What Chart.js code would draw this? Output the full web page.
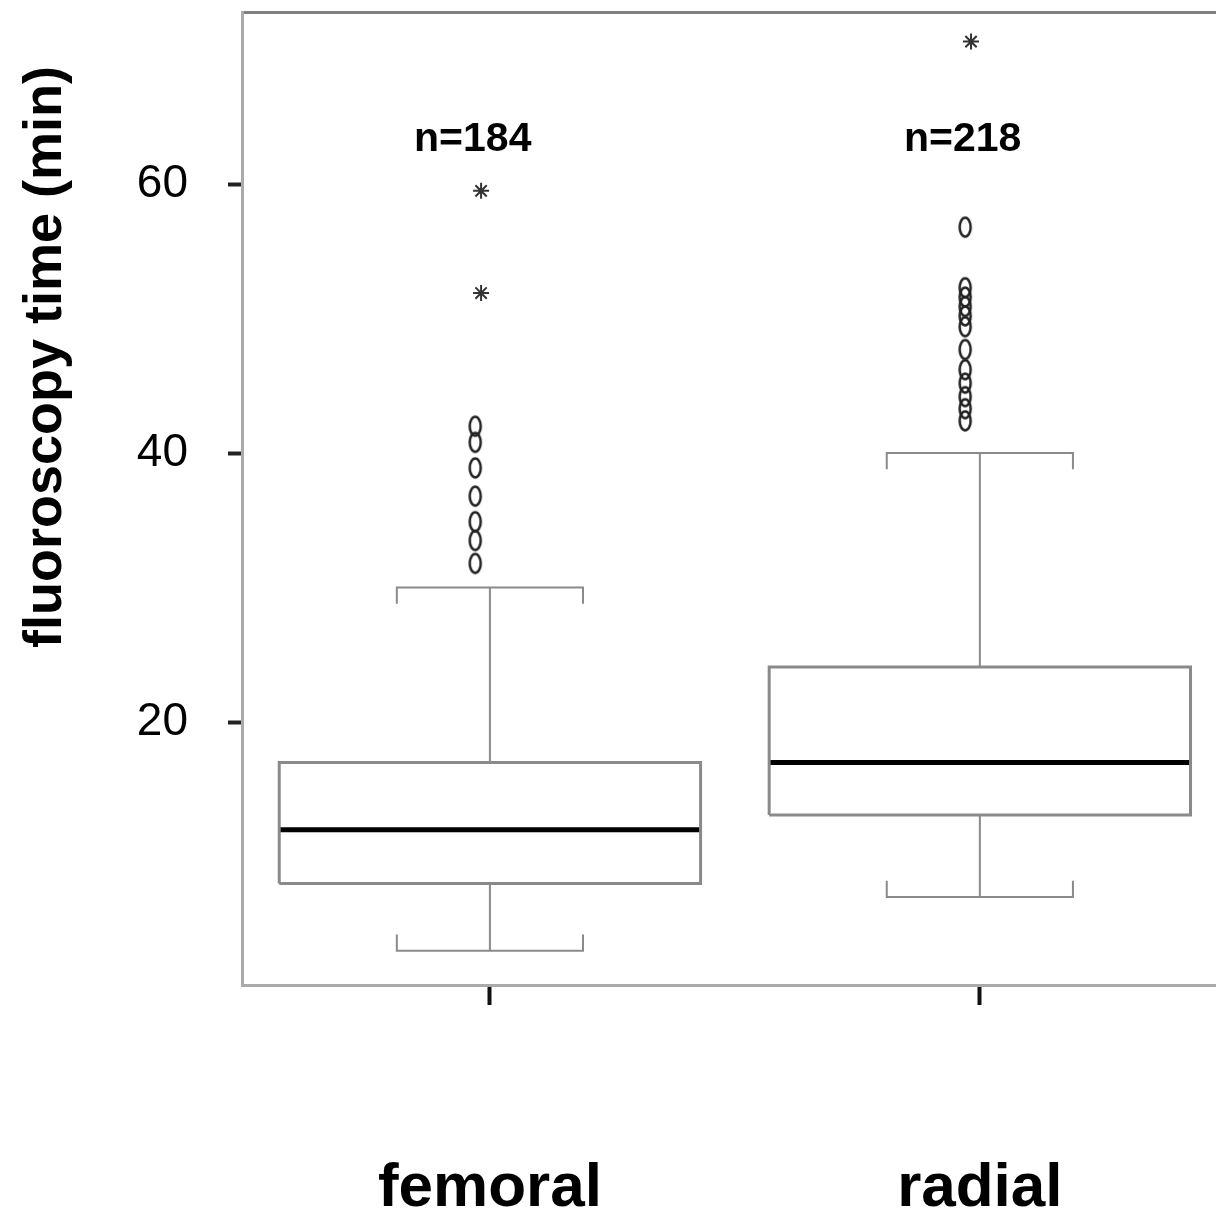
<!DOCTYPE html>
<html>
<head>
<meta charset="utf-8">
<script src="https://cdn.jsdelivr.net/npm/chart.js@4"></script>
<style>
  html, body { margin: 0; padding: 0; background: #fff; overflow: hidden; }
  canvas { display: block; }
</style>
</head>
<body>
<canvas id="grafica" width="1216" height="1216"></canvas>
<script>
// datos
const categories = ['femoral', 'radial'];
const sampleSizes = [184, 218];
const whiskerLow = [3.0, 7.0];
const q1 = [8.0, 13.1];
const medians = [12.0, 17.0];
const q3 = [17.0, 24.1];
const whiskerHigh = [30.0, 40.0];
const outliersFemoral = [31.8, 33.5, 34.9, 36.8, 38.9, 40.8, 42.0];
const outliersRadial = [42.4, 43.3, 44.2, 45.2, 46.2, 47.7, 49.4, 50.2, 50.9, 51.6, 52.3, 56.8];
const extremesFemoral = [51.9, 59.5];
const extremesRadial = [70.6];
const yTicks = [20, 40, 60];

const fontFamily = '"Liberation Sans", Arial, Helvetica, sans-serif';
const boxHalf = 0.43;
const capHalf = 0.19;
const capTick = 1.2;
const outlierShift = -0.03;

// marcador eliptico como el "o" de la figura original
const ellipse = document.createElement('canvas');
ellipse.width = 16;
ellipse.height = 24;
const ectx = ellipse.getContext('2d');
ectx.strokeStyle = '#222';
ectx.lineWidth = 2.5;
ectx.beginPath();
ectx.ellipse(8, 12, 5.5, 9.5, 0, 0, Math.PI * 2);
ectx.stroke();

const lineBase = {
    showLine: true,
    fill: false,
    pointRadius: 0,
    pointHoverRadius: 0,
    borderJoinStyle: 'miter',
    borderCapStyle: 'butt'
};

const datasets = [];
categories.forEach((cat, i) => {
    const x = i + 1;
    // caja
    datasets.push(Object.assign({}, lineBase, {
        data: [
            { x: x - boxHalf, y: q1[i] }, { x: x + boxHalf, y: q1[i] },
            { x: x + boxHalf, y: q3[i] }, { x: x - boxHalf, y: q3[i] },
            { x: x - boxHalf, y: q1[i] }
        ],
        borderColor: '#8a8a8a',
        borderWidth: 3
    }));
    // bigotes
    datasets.push(Object.assign({}, lineBase, {
        data: [{ x: x, y: q3[i] }, { x: x, y: whiskerHigh[i] }],
        borderColor: '#8a8a8a',
        borderWidth: 2
    }));
    datasets.push(Object.assign({}, lineBase, {
        data: [{ x: x, y: q1[i] }, { x: x, y: whiskerLow[i] }],
        borderColor: '#8a8a8a',
        borderWidth: 2
    }));
    datasets.push(Object.assign({}, lineBase, {
        data: [
            { x: x - capHalf, y: whiskerHigh[i] - capTick }, { x: x - capHalf, y: whiskerHigh[i] },
            { x: x + capHalf, y: whiskerHigh[i] }, { x: x + capHalf, y: whiskerHigh[i] - capTick }
        ],
        borderColor: '#8a8a8a',
        borderWidth: 2
    }));
    datasets.push(Object.assign({}, lineBase, {
        data: [
            { x: x - capHalf, y: whiskerLow[i] + capTick }, { x: x - capHalf, y: whiskerLow[i] },
            { x: x + capHalf, y: whiskerLow[i] }, { x: x + capHalf, y: whiskerLow[i] + capTick }
        ],
        borderColor: '#8a8a8a',
        borderWidth: 2
    }));
    // mediana
    datasets.push(Object.assign({}, lineBase, {
        data: [{ x: x - boxHalf, y: medians[i] }, { x: x + boxHalf, y: medians[i] }],
        borderColor: '#000',
        borderWidth: 5
    }));
});

// valores atipicos
[outliersFemoral, outliersRadial].forEach((arr, i) => {
    datasets.push({
        data: arr.map(v => ({ x: i + 1 + outlierShift, y: v })),
        pointStyle: ellipse,
        pointRadius: 9,
        pointHoverRadius: 9,
        showLine: false
    });
});
[extremesFemoral, extremesRadial].forEach((arr, i) => {
    datasets.push({
        data: arr.map(v => ({ x: i + 1 + outlierShift * 0.6, y: v })),
        pointStyle: 'star',
        pointRadius: 8,
        pointHoverRadius: 8,
        borderColor: '#333',
        backgroundColor: '#333',
        borderWidth: 2,
        showLine: false
    });
});

// etiquetas n= y titulo del eje y
const textos = {
    id: 'textos',
    afterDraw(chart) {
        const ctx = chart.ctx;
        const xs = chart.scales.x;
        const ys = chart.scales.y;
        ctx.save();
        ctx.fillStyle = '#000';
        ctx.font = 'bold 41px ' + fontFamily;
        ctx.textAlign = 'center';
        ctx.textBaseline = 'middle';
        sampleSizes.forEach((n, i) => {
            ctx.fillText('n=' + n, xs.getPixelForValue(i + 1 - 0.035), ys.getPixelForValue(63.3));
        });
        ctx.translate(46, 357);
        ctx.rotate(-Math.PI / 2);
        ctx.font = 'bold 54px ' + fontFamily;
        ctx.fillText('fluoroscopy time (min)', 0, 0);
        ctx.restore();
    }
};

// quita el relleno automatico que Chart.js reserva para las etiquetas
const sinRelleno = s => {
    s.paddingTop = 0;
    s.paddingBottom = 0;
    s.paddingLeft = 0;
    s.paddingRight = 0;
};

const ctx = document.getElementById('grafica').getContext('2d');
window.miGrafica = new Chart(ctx, {
    type: 'scatter',
    data: { datasets: datasets },
    plugins: [textos],
    options: {
        responsive: false,
        animation: false,
        devicePixelRatio: 1,
        layout: { padding: 0, autoPadding: false },
        plugins: {
            legend: { display: false },
            tooltip: { enabled: false }
        },
        scales: {
            x: {
                type: 'linear',
                position: 'bottom',
                min: 0.494,
                max: 2.482,
                afterFit: s => { s.height = 231; sinRelleno(s); },
                afterBuildTicks: s => { s.ticks = categories.map((c, i) => ({ value: i + 1 })); },
                ticks: {
                    callback: v => categories[v - 1],
                    color: '#000',
                    font: { family: fontFamily, size: 62, weight: 'bold' },
                    padding: 147,
                    maxRotation: 0
                },
                grid: {
                    drawOnChartArea: false,
                    drawTicks: true,
                    tickLength: 20,
                    tickWidth: 4,
                    tickColor: '#111'
                },
                border: { color: '#aaa', width: 3 }
            },
            x2: {
                type: 'linear',
                position: 'top',
                min: 0.494,
                max: 2.482,
                afterFit: s => { s.height = 12; sinRelleno(s); },
                ticks: { display: false },
                grid: { drawOnChartArea: false, drawTicks: false },
                border: { color: '#808080', width: 3 }
            },
            y: {
                type: 'linear',
                min: 0.45,
                max: 72.8,
                afterFit: s => { s.width = 242; sinRelleno(s); },
                afterBuildTicks: s => { s.ticks = yTicks.map(v => ({ value: v })); },
                ticks: {
                    color: '#000',
                    font: { family: fontFamily, size: 46 },
                    padding: 40
                },
                grid: {
                    drawOnChartArea: false,
                    drawTicks: true,
                    tickLength: 14,
                    tickWidth: 4,
                    tickColor: '#222'
                },
                border: { color: '#aaa', width: 3 }
            }
        }
    }
});
</script>
</body>
</html>
